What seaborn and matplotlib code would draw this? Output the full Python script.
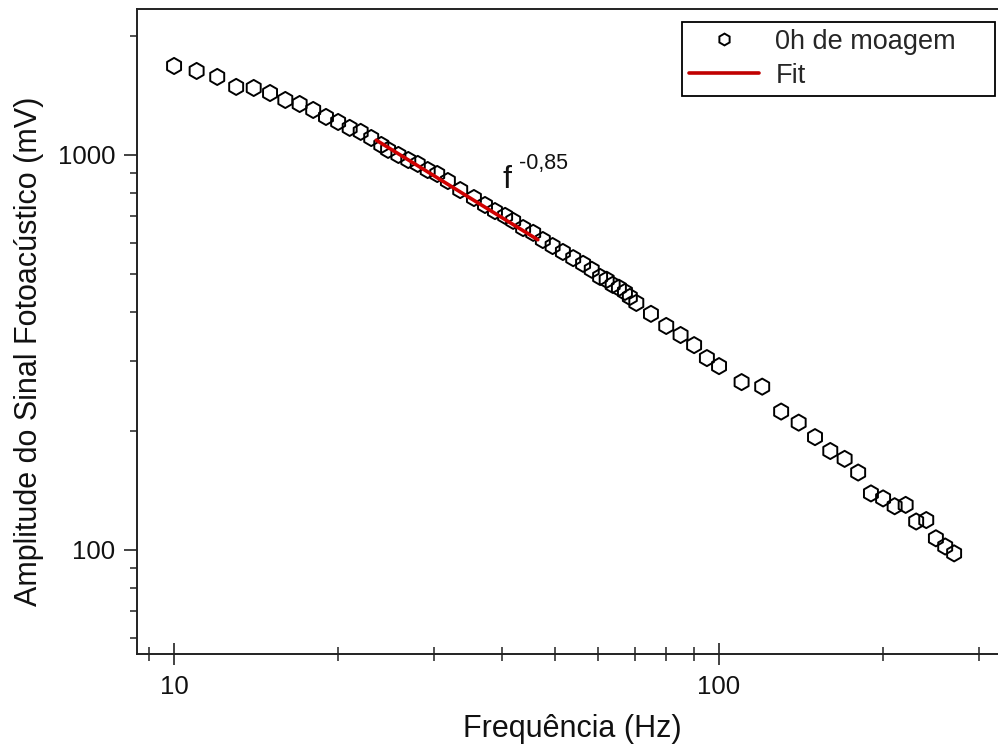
import matplotlib
matplotlib.use("Agg")
import matplotlib.pyplot as plt
import seaborn as sns
import pandas as pd
from matplotlib.lines import Line2D
from matplotlib.ticker import FuncFormatter, NullFormatter, LogLocator

# ---- data ----
freq_hz = [10, 11, 12, 13, 14, 15, 16, 17, 18, 19, 20, 21, 22, 23, 24,
           24.7, 25.8, 26.9, 28.0, 29.2, 30.4, 31.8, 33.5, 35.5, 37.2, 38.8, 40.5, 41.9, 43.7, 45.6,
           47.5, 49.5, 51.7, 54.0, 56.3, 58.4, 60.5, 62.2, 63.8, 65.5, 67.2, 68.6, 70.5,
           75, 80, 85, 90, 95, 100,
           110, 120, 130, 140, 150, 160, 170, 180, 190, 200, 210, 220, 230, 240, 250, 260, 270]
amplitude_mv = [1680, 1632, 1576, 1487, 1478, 1435, 1378, 1346, 1300, 1248, 1212, 1171, 1144, 1104, 1060,
                1030, 1000, 971, 949, 916, 895, 859, 815, 778, 747, 721, 701, 681, 653, 635,
                609, 588, 568, 548, 530, 512, 491, 483, 469, 461, 450, 437, 422,
                396, 369, 350, 330, 306, 292,
                266, 259, 224, 210, 193, 178, 170, 157, 139, 135, 129, 130, 118, 119, 107, 102, 98]
fit_freq = [23.5, 46.5]
fit_amp = [1090, 610]

series_label = "0h de moagem"
fit_label = "Fit"
fit_text = "f"
fit_exp_text = "-0,85"

df = pd.DataFrame({"f": freq_hz, "A": amplitude_mv})
df_fit = pd.DataFrame({"f": fit_freq, "A": fit_amp})

sns.set_style("ticks")
plt.rcParams["font.family"] = ["Liberation Sans", "DejaVu Sans"]

W, H = 998, 754
fig = plt.figure(figsize=(W / 100, H / 100), dpi=100)
ax = fig.add_axes([137 / W, 1 - 654 / H, (W - 137) / W, (654 - 9) / H])

sns.scatterplot(data=df, x="f", y="A", marker="h", s=135, facecolor="none",
                edgecolor="black", linewidth=1.4, ax=ax, legend=False, zorder=3)
sns.lineplot(data=df_fit, x="f", y="A", color="#d00000", linewidth=2.6, ax=ax,
             legend=False, zorder=4)

ax.set_xscale("log")
ax.set_yscale("log")
ax.set_xlim(8.55, 325)
ax.set_ylim(54.5, 2342)

ax.xaxis.set_major_locator(LogLocator(base=10))
ax.yaxis.set_major_locator(LogLocator(base=10))
ax.xaxis.set_minor_locator(LogLocator(base=10, subs=range(2, 10)))
ax.yaxis.set_minor_locator(LogLocator(base=10, subs=range(2, 10)))
fmt = FuncFormatter(lambda v, _: f"{v:g}")
ax.xaxis.set_major_formatter(fmt)
ax.yaxis.set_major_formatter(fmt)
ax.xaxis.set_minor_formatter(NullFormatter())
ax.yaxis.set_minor_formatter(NullFormatter())

for s in ["left", "top", "bottom"]:
    ax.spines[s].set_visible(True)
    ax.spines[s].set_color("#222222")
    ax.spines[s].set_linewidth(1.4)
ax.spines["right"].set_visible(False)

ax.tick_params(axis="x", which="major", direction="inout", length=16.5, width=1.2,
               labelsize=18.5, pad=7, colors="#222222", labelcolor="#111111")
ax.tick_params(axis="x", which="minor", direction="inout", length=9.4, width=1.1,
               colors="#222222")
ax.tick_params(axis="y", which="major", direction="out", length=9.4, width=1.2,
               labelsize=18.5, pad=6, colors="#222222", labelcolor="#111111")
ax.tick_params(axis="y", which="minor", direction="out", length=5, width=1.1,
               colors="#222222")
ax.tick_params(top=False, right=False, which="both")

ax.set_xlabel("Frequência (Hz)", fontsize=22, color="#111111")
ax.set_ylabel("Amplitude do Sinal Fotoacústico (mV)", fontsize=22, color="#111111")
ax.xaxis.set_label_coords((572 - 137) / 861, -0.093)
ax.yaxis.set_label_coords((44 - 137) / 861, 0.47)

ax.text(40.1, 825, fit_text, fontsize=23, ha="left", va="baseline", color="#111111")
ax.text(43.0, 922, fit_exp_text, fontsize=15.5, ha="left", va="baseline", color="#111111")

handles = [
    Line2D([], [], marker="h", linestyle="none", markerfacecolor="none",
           markeredgecolor="black", markersize=8.5, markeredgewidth=1.4),
    Line2D([], [], color="#c00000", linewidth=2.6),
]
leg = ax.legend(handles, [series_label, fit_label],
                bbox_to_anchor=(682 / W, 1 - 98 / H, (995 - 682) / W, 76 / H),
                bbox_transform=fig.transFigure, loc="upper left", mode="expand",
                borderaxespad=0, fontsize=19.5, frameon=True, fancybox=False,
                framealpha=1, edgecolor="black", handlelength=2.6,
                handletextpad=0.6, labelspacing=0.3, borderpad=0.25)
leg.get_frame().set_linewidth(1.3)

fig.savefig("out.png", dpi=100)
